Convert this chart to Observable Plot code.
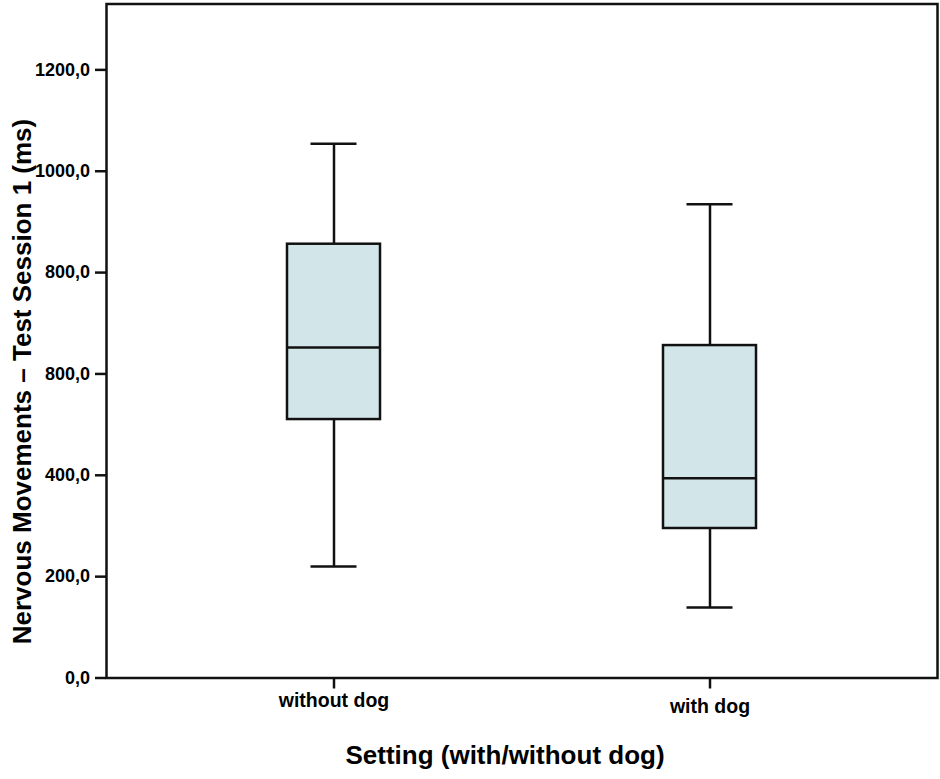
<!DOCTYPE html>
<html>
<head>
<meta charset="utf-8">
<script src="https://cdn.jsdelivr.net/npm/d3@7"></script>
<script src="https://cdn.jsdelivr.net/npm/@observablehq/plot@0.6"></script>
<style>
  html, body { margin: 0; padding: 0; background: #fff; }
</style>
</head>
<body>
<div id="chart"></div>
<script>
const settings = ["without dog", "with dog"];
const lowWhisker = [220, 139];
const q1 = [510, 295];
const median = [652, 394];
const q3 = [856, 656];
const highWhisker = [1054, 935];

const yTicks = [0, 200, 400, 600, 800, 1000, 1200];
const yTickLabels = ["0,0", "200,0", "400,0", "800,0", "800,0", "1000,0", "1200,0"];

const yLabel = "Nervous Movements \u2013 Test Session 1 (ms)";
const xLabel = "Setting (with/without dog)";

const data = settings.map((s, i) => ({
  setting: s, low: lowWhisker[i], q1: q1[i], median: median[i], q3: q3[i], high: highWhisker[i]
}));
const labelByValue = new Map(yTicks.map((v, i) => [v, yTickLabels[i]]));

const sw = 2.5;
const chart = Plot.plot({
  width: 940,
  height: 779,
  marginLeft: 106,
  marginRight: 3,
  marginTop: 3.5,
  marginBottom: 101.5,
  style: { fontFamily: "'Liberation Sans', Arial, sans-serif", background: "#fff", color: "#000" },
  x: { type: "band", domain: settings, paddingInner: 0.753, paddingOuter: 0.48, axis: null },
  y: { domain: [0, 1330], axis: null },
  marks: [
    Plot.ruleX(data, { x: "setting", y1: "low", y2: "q1", stroke: "#111", strokeWidth: sw }),
    Plot.ruleX(data, { x: "setting", y1: "q3", y2: "high", stroke: "#111", strokeWidth: sw }),
    Plot.tickY(data, { x: "setting", y: "low", stroke: "#111", strokeWidth: sw, insetLeft: 23.5, insetRight: 23.5 }),
    Plot.tickY(data, { x: "setting", y: "high", stroke: "#111", strokeWidth: sw, insetLeft: 23.5, insetRight: 23.5 }),
    Plot.barY(data, { x: "setting", y1: "q1", y2: "q3", fill: "#d2e6e9", stroke: "#111", strokeWidth: sw }),
    Plot.tickY(data, { x: "setting", y: "median", stroke: "#111", strokeWidth: sw }),
    Plot.frame({ stroke: "#111", strokeWidth: sw }),
    Plot.axisY(yTicks, {
      tickSize: 11, tickPadding: 5.5, strokeWidth: sw, stroke: "#111",
      fontSize: 18, fontWeight: "bold", tickFormat: d => labelByValue.get(d), label: null
    }),
    Plot.axisX([settings[0]], {
      tickSize: 11, tickPadding: 4.5, strokeWidth: sw, stroke: "#111",
      fontSize: 19.5, fontWeight: "bold", label: null
    }),
    Plot.axisX([settings[1]], {
      tickSize: 11, tickPadding: 10.5, strokeWidth: sw, stroke: "#111",
      fontSize: 19.5, fontWeight: "bold", label: null
    }),
    Plot.text([yLabel], {
      text: d => d, frameAnchor: "left", textAnchor: "middle", rotate: -90, dx: -84, dy: 40.5,
      fontSize: 26, fontWeight: "bold", fill: "#000"
    }),
    Plot.text([xLabel], {
      text: d => d, frameAnchor: "bottom", dx: -17, dy: 85.5,
      fontSize: 26, fontWeight: "bold", fill: "#000"
    })
  ]
});
document.getElementById("chart").appendChild(chart);
</script>
</body>
</html>
